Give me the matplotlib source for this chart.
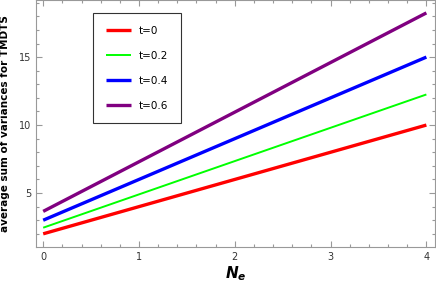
import matplotlib.pyplot as plt
from matplotlib.ticker import MultipleLocator

# Values
n_e = [0, 1, 2, 3, 4]
labels = ['t=0', 't=0.2', 't=0.4', 't=0.6']
t0 = [2.0, 4.0, 6.0, 8.0, 10.0]
t02 = [2.45, 4.9, 7.35, 9.8, 12.25]
t04 = [3.0, 6.0, 9.0, 12.0, 15.0]
t06 = [3.65, 7.3, 10.95, 14.6, 18.25]

colors = ['#ff0000', '#00ff00', '#0000ff', '#800080']
widths = [2.4, 1.4, 2.4, 2.4]

fig = plt.figure(figsize=(4.36, 2.89), dpi=100)
ax = fig.add_axes([36 / 436, 1 - 247 / 289, 399 / 436, 247 / 289])

for series, label, color, lw in zip([t0, t02, t04, t06], labels, colors, widths):
    ax.plot(n_e, series, color=color, linewidth=lw, label=label, solid_capstyle='butt')

ax.set_xlim(-0.075, 4.09)
ax.set_ylim(1.03, 19.2)
ax.xaxis.set_major_locator(MultipleLocator(1))
ax.xaxis.set_minor_locator(MultipleLocator(0.2))
ax.yaxis.set_major_locator(MultipleLocator(5))
ax.yaxis.set_minor_locator(MultipleLocator(1))
ax.tick_params(which='both', direction='in', top=True, right=True, color='#999999',
               labelsize=7, labelcolor='#333333', width=0.8)
ax.tick_params(which='major', length=4.5)
ax.tick_params(which='minor', length=2.5)
for spine in ax.spines.values():
    spine.set_color('#999999')
    spine.set_linewidth(0.8)

ax.set_xlabel(r'$\mathbfit{N}_{\mathbfit{e}}$', fontsize=11, labelpad=2)
ax.set_ylabel('average sum of variances for TMDTS', fontsize=7.5, fontweight='bold', labelpad=6)

leg = ax.legend(loc='upper left', bbox_to_anchor=(57 / 399, 1 - 13 / 247), fontsize=7.5,
                frameon=True, fancybox=False, edgecolor='black', handlelength=2.4,
                labelspacing=1.45, borderpad=1.2, borderaxespad=0, handletextpad=0.8)
leg.get_frame().set_linewidth(0.8)

fig.savefig('out.png', dpi=100)
